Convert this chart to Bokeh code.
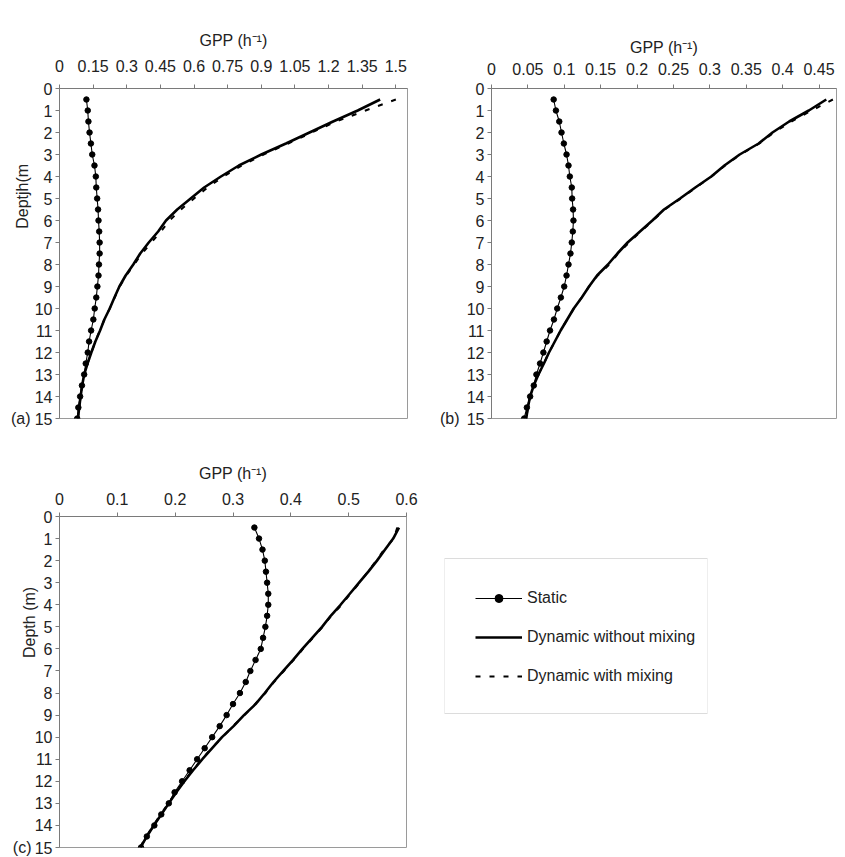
from bokeh.plotting import figure
from bokeh.models import (Range1d, FixedTicker, CustomJSTickFormatter, Label,
                          Legend, LegendItem, BoxAnnotation)
from bokeh.layouts import column, row
from bokeh.embed import file_html
from bokeh.resources import INLINE

# ---------------- data ----------------
depth = [0.5, 1.0, 1.5, 2.0, 2.5, 3.0, 3.5, 4.0, 4.5, 5.0,
         5.5, 6.0, 6.5, 7.0, 7.5, 8.0, 8.5, 9.0, 9.5, 10.0,
         10.5, 11.0, 11.5, 12.0, 12.5, 13.0, 13.5, 14.0, 14.5, 15.0]

# panel (a)
a_static = [0.120, 0.126, 0.129, 0.134, 0.140, 0.146, 0.156, 0.162, 0.164, 0.168,
            0.172, 0.174, 0.177, 0.179, 0.179, 0.176, 0.174, 0.169, 0.164, 0.157,
            0.151, 0.141, 0.132, 0.126, 0.117, 0.110, 0.100, 0.092, 0.084, 0.079]
a_dynamic = [1.430, 1.330, 1.220, 1.115, 1.010, 0.900, 0.800, 0.720, 0.645, 0.585,
             0.525, 0.475, 0.440, 0.398, 0.360, 0.329, 0.295, 0.267, 0.245, 0.224,
             0.200, 0.181, 0.160, 0.142, 0.125, 0.110, 0.101, 0.094, 0.088, 0.082]
a_mixing = [1.500, 1.365, 1.235, 1.125, 1.020, 0.910, 0.812, 0.732, 0.660, 0.600,
            0.542, 0.490, 0.452, 0.410, 0.368, 0.333, 0.298, 0.268, 0.246, 0.224,
            0.200, 0.180, 0.160, 0.142, 0.125, 0.110, 0.101, 0.094, 0.088, 0.082]
a_ticks = [0, 0.15, 0.3, 0.45, 0.6, 0.75, 0.9, 1.05, 1.2, 1.35, 1.5]

# panel (b)
b_static = [0.0854, 0.0885, 0.0931, 0.0962, 0.0994, 0.1031, 0.1058, 0.1076, 0.1103, 0.1108,
            0.1121, 0.1126, 0.1117, 0.1103, 0.1085, 0.1058, 0.1031, 0.0999, 0.0953, 0.0903,
            0.0858, 0.0804, 0.0758, 0.0713, 0.0667, 0.0617, 0.0581, 0.0531, 0.0486, 0.0449]
b_dynamic = [0.460, 0.436, 0.409, 0.386, 0.367, 0.341, 0.320, 0.302, 0.280, 0.259,
             0.237, 0.221, 0.204, 0.187, 0.173, 0.160, 0.145, 0.134, 0.124, 0.113,
             0.104, 0.095, 0.087, 0.079, 0.072, 0.0645, 0.058, 0.053, 0.050, 0.0477]
b_mixing = [0.469, 0.440, 0.412, 0.388, 0.368, 0.342, 0.321, 0.302, 0.281, 0.260,
            0.238, 0.222, 0.205, 0.189, 0.174, 0.162, 0.146, 0.134, 0.124, 0.113,
            0.104, 0.095, 0.087, 0.079, 0.072, 0.0645, 0.058, 0.053, 0.050, 0.0477]
b_ticks = [0, 0.05, 0.1, 0.15, 0.2, 0.25, 0.3, 0.35, 0.4, 0.45]

# panel (c)
c_static = [0.337, 0.345, 0.351, 0.355, 0.357, 0.359, 0.361, 0.361, 0.359, 0.356,
            0.352, 0.348, 0.339, 0.330, 0.322, 0.312, 0.300, 0.289, 0.277, 0.264,
            0.251, 0.238, 0.225, 0.212, 0.199, 0.189, 0.176, 0.164, 0.151, 0.141]
c_dynamic = [0.587, 0.577, 0.563, 0.549, 0.534, 0.518, 0.502, 0.486, 0.469, 0.454,
             0.437, 0.420, 0.404, 0.387, 0.370, 0.355, 0.339, 0.319, 0.301, 0.281,
             0.264, 0.247, 0.231, 0.216, 0.202, 0.189, 0.176, 0.163, 0.151, 0.140]
c_mixing = [0.584, 0.578, 0.561, 0.548, 0.533, 0.519, 0.503, 0.488, 0.470, 0.455,
            0.438, 0.421, 0.405, 0.388, 0.371, 0.356, 0.338, 0.320, 0.300, 0.282,
            0.263, 0.246, 0.230, 0.215, 0.201, 0.188, 0.175, 0.162, 0.150, 0.139]
c_ticks = [0, 0.1, 0.2, 0.3, 0.4, 0.5, 0.6]

y_ticks = [0, 1, 2, 3, 4, 5, 6, 7, 8, 9, 10, 11, 12, 13, 14, 15]

FONT = "Liberation Sans"
TXT = "#222222"
AX = "#7a7a7a"


def make_panel(static, dyn, mix, x_end, xticks, tag, tag_px, ylab, ylab_px, ylab_depth,
               width, height, left, right, top, bottom, lab_standoff, title_standoff):
    p = figure(width=width, height=height,
               x_range=Range1d(0, x_end), y_range=Range1d(15, 0),
               x_axis_location="above", output_backend="svg",
               toolbar_location=None,
               min_border_left=left, min_border_right=right,
               min_border_top=top, min_border_bottom=bottom,
               background_fill_color="white", border_fill_color="white",
               outline_line_color="#9a9a9a")
    p.grid.visible = False
    frame_w = width - left - right
    per_px = x_end / frame_w
    xa = p.xaxis[0]
    xa.ticker = FixedTicker(ticks=xticks)
    xa.formatter = CustomJSTickFormatter(code="return String(Math.round(tick*1000)/1000);")
    xa.axis_label = "GPP (h\u207b\u00b9)"
    ya = p.yaxis[0]
    ya.ticker = FixedTicker(ticks=y_ticks)
    for ax in (xa, ya):
        ax.axis_line_color = AX
        ax.major_tick_line_color = AX
        ax.minor_tick_line_color = None
        ax.major_tick_in = 0
        ax.major_tick_out = 4
        ax.major_label_text_font = FONT
        ax.major_label_text_font_size = "16px"
        ax.major_label_text_color = TXT
        ax.axis_label_text_font = FONT
        ax.axis_label_text_font_size = "16px"
        ax.axis_label_text_font_style = "normal"
        ax.axis_label_text_color = TXT
    xa.major_label_standoff = lab_standoff
    xa.axis_label_standoff = title_standoff
    ya.major_label_standoff = 3

    p.line(x=dyn, y=depth, line_color="black", line_width=2.6)
    p.line(x=mix, y=depth, line_color="black", line_width=2, line_dash="5 9")
    p.line(x=static, y=depth, line_color="black", line_width=1.1)
    p.scatter(x=static, y=depth, size=5.5, fill_color="black", line_color="black")

    # panel tag and depth title sit in side panels (so they are not clipped to the frame);
    # their position is still given in data units of this panel
    p.add_layout(Label(x=-tag_px * per_px, y=15, text=tag,
                       text_align="right", text_baseline="middle",
                       text_font=FONT, text_font_size="16px", text_color=TXT), "above")
    if ylab:
        p.add_layout(Label(x=-ylab_px * per_px, y=ylab_depth,
                           text=ylab, angle=1.5708, text_align="center",
                           text_baseline="middle",
                           text_font=FONT, text_font_size="16px", text_color=TXT), "left")
    return p


pa = make_panel(a_static, a_dynamic, a_mixing, 1.552, a_ticks, "(a)", 29,
                "Deptjh(m", 37, 4.9, 420, 430, 59, 13, 87, 11, 13, 8)
pb = make_panel(b_static, b_dynamic, b_mixing, 0.474, b_ticks, "(b)", 32,
                None, 0, 0, 425, 430, 71, 9, 88, 12, 10, 4)
pc = make_panel(c_static, c_dynamic, c_mixing, 0.6, c_ticks, "(c)", 28,
                "Depth (m)", 30, 4.8, 420, 427, 59, 14, 86, 10, 8, 8)

# legend panel (same vertical borders as panel c so the row aligns)
pl = figure(width=425, height=427, x_range=Range1d(0, 1), y_range=Range1d(-1, 0),
            x_axis_type=None, y_axis_type=None, output_backend="svg",
            toolbar_location=None,
            min_border_left=24, min_border_right=138,
            min_border_top=86, min_border_bottom=10,
            background_fill_color="white", border_fill_color="white",
            outline_line_color=None)
pl.grid.visible = False
pl_h = 427 - 86 - 10
pl.add_layout(BoxAnnotation(left=0, right=1, bottom=-1 + 134 / pl_h, top=-1 + 289 / pl_h,
                            fill_alpha=0, line_color="#8a8a8a", line_width=1))
# legend keys reuse panel (c) data, which lies outside this panel's visible range
r_sl = pl.line(x=c_static, y=depth, line_color="black", line_width=1.1)
r_ss = pl.scatter(x=c_static, y=depth, size=5.5, fill_color="black", line_color="black")
r_dy = pl.line(x=c_dynamic, y=depth, line_color="black", line_width=2.6)
r_mx = pl.line(x=c_mixing, y=depth, line_color="black", line_width=2, line_dash="5 9")
legend = Legend(items=[LegendItem(label="Static", renderers=[r_sl, r_ss]),
                       LegendItem(label="Dynamic without mixing", renderers=[r_dy]),
                       LegendItem(label="Dynamic with mixing", renderers=[r_mx])],
                location=(31, 161), border_line_color=None, background_fill_alpha=0,
                padding=0, margin=0, spacing=19, glyph_width=47, glyph_height=20,
                label_height=20, label_standoff=5,
                label_text_font=FONT, label_text_font_size="16px",
                label_text_color=TXT)
pl.add_layout(legend)

layout = column(row(pa, pb), row(pc, pl))
open("out.html", "w").write(file_html(layout, INLINE))
